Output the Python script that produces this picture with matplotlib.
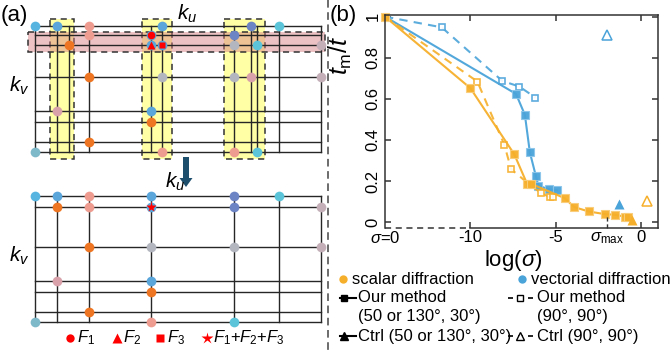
import matplotlib
matplotlib.use("Agg")
import matplotlib.pyplot as plt
from matplotlib.patches import Rectangle, FancyArrow

plt.rcParams["font.family"] = ["Liberation Sans", "DejaVu Sans"]
plt.rcParams["mathtext.fontset"] = "custom"
plt.rcParams["mathtext.rm"] = "Liberation Sans"
plt.rcParams["mathtext.it"] = "Liberation Sans:italic"
plt.rcParams["mathtext.bf"] = "Liberation Sans:bold"

# ---------------- panel (b) data ----------------
sca_our_x = [-15, -10, -7.43, -6.68, -6.43, -4.49, -3.91, -3.08, -2.13, -1.55, -0.97, -0.78]
sca_our_y = [1.0, 0.652, 0.33, 0.186, 0.186, 0.117, 0.073, 0.052, 0.039, 0.036, 0.027, 0.027]
sca_our90_x = [-15, -9.59, -8.01, -7.62, -6.5, -5.84, -5.36, -5.17]
sca_our90_y = [1.0, 0.684, 0.376, 0.258, 0.18, 0.141, 0.122, 0.122]
vec_our_x = [-15, -7.33, -6.81, -6.52, -6.17, -6.02, -5.40, -4.92]
vec_our_y = [1.0, 0.624, 0.522, 0.34, 0.225, 0.177, 0.16, 0.155]
vec_our90_x = [-15, -11.68, -8.13, -7.14, -6.19]
vec_our90_y = [1.0, 0.948, 0.687, 0.66, 0.606]
sca_ctrl = (-0.53, 0.011)
vec_ctrl = (-1.28, 0.089)
sca_ctrl90 = (0.34, 0.105)
vec_ctrl90 = (-1.98, 0.911)

xtick_pos = [-15, -10, -5, -2, 0]
xtick_lab = [r"$\sigma$=0", "-10", "-5", r"$\sigma_{\rm max}$", "0"]
ytick_pos = [0, 0.2, 0.4, 0.6, 0.8, 1.0]
ytick_lab = ["0", "0.2", "0.4", "0.6", "0.8", "1"]

ORANGE = "#F6AF2A"
BLUE = "#4AA3D9"

# ---------------- panel (a) schematic (pixel layout) ----------------
cols_top = [35, 56.7, 69.3, 89.3, 151, 161.7, 234.3, 250.7, 257.3, 279.3, 320.7]
rows_top = [26, 35, 45, 76.7, 111, 121.7, 141.7, 152.3]
cols_bot = [35, 56.7, 89.3, 151, 234.3, 279.3, 320.7]
rows_bot = [196, 206.7, 246.7, 281, 291.7, 311.7, 322.3]

LB, BL, SA, DB, TE = "#57B4E0", "#5AA5DA", "#EF9C90", "#6C84C4", "#5CC4D8"
OR, GR, MG, PK, TG = "#EE7522", "#B3B6BF", "#C4AFB9", "#D9A2AA", "#7EB9CA"

dots_top = [(0, 0, LB), (1, 0, BL), (3, 0, SA), (5, 0, BL), (7, 0, DB), (9, 0, TE),
            (3, 1, SA), (2, 2, OR), (4, 1, BL), (4, 2, BL), (5, 2, BL),
            (6, 1, DB), (6, 2, GR), (8, 2, TE), (10, 2, MG),
            (3, 3, OR), (5, 3, GR), (6, 3, GR), (7, 3, PK), (10, 3, MG),
            (1, 4, PK), (4, 4, BL), (4, 5, OR), (3, 6, OR),
            (0, 7, TG), (5, 7, SA), (6, 7, SA), (8, 7, TE)]
dots_bot = [(0, 0, LB), (1, 0, BL), (2, 0, SA), (3, 0, BL), (4, 0, DB), (5, 0, TE),
            (1, 1, OR), (2, 1, SA), (3, 1, BL), (4, 1, DB), (6, 1, MG),
            (2, 2, OR), (3, 2, GR), (4, 2, GR), (6, 2, MG),
            (1, 3, PK), (3, 3, BL), (3, 4, OR), (2, 5, OR),
            (0, 6, TG), (3, 6, SA), (4, 6, TE)]
red_top = [(4, 1, "o"), (4, 2, "^"), (5, 2, "s")]
red_bot = [(3, 1, "*")]
yellow_boxes = [(50, 74.3), (141.7, 171.7), (224.3, 265)]
yellow_y = (19, 159)
pink_band = (28.3, 325, 31.7, 52.3)

fig = plt.figure(figsize=(6.7, 3.5), dpi=100)
ax0 = fig.add_axes([0, 0, 1, 1])
ax0.set_xlim(0, 670)
ax0.set_ylim(350, 0)
ax0.axis("off")

LINE = "#262626"

# yellow column highlights
for x0, x1 in yellow_boxes:
    ax0.add_patch(Rectangle((x0, yellow_y[0]), x1 - x0, yellow_y[1] - yellow_y[0],
                            facecolor="#FFFFA6", edgecolor="#333333", lw=1.1,
                            ls=(0, (4, 3)), zorder=1))
# pink row highlight
px0, px1, py0, py1 = pink_band
ax0.add_patch(Rectangle((px0, py0), px1 - px0, py1 - py0, facecolor="#D8787F",
                        alpha=0.45, edgecolor="none", zorder=1.5))
ax0.add_patch(Rectangle((px0, py0), px1 - px0, py1 - py0, facecolor="none",
                        edgecolor="#333333", lw=1.1, ls=(0, (4, 3)), zorder=1.6))


def draw_grid(cols, rows, dots):
    for c in cols:
        ax0.plot([c, c], [rows[0], rows[-1]], color=LINE, lw=1.0, zorder=2)
    for r in rows:
        ax0.plot([cols[0], cols[-1]], [r, r], color=LINE, lw=1.0, zorder=2)
    for ci, ri, col in dots:
        ax0.plot(cols[ci], rows[ri], "o", ms=7, color=col, mec="none", zorder=3)


draw_grid(cols_top, rows_top, dots_top)
draw_grid(cols_bot, rows_bot, dots_bot)
for ci, ri, m in red_top:
    ax0.plot(cols_top[ci], rows_top[ri], m, ms=5.5 if m != "s" else 5, color="red",
             mec="none", zorder=4)
for ci, ri, m in red_bot:
    ax0.plot(cols_bot[ci], rows_bot[ri], m, ms=8, color="red", mec="none", zorder=4)

ax0.add_patch(FancyArrow(186, 157, 0, 21, width=6, head_width=13, head_length=9,
                         length_includes_head=False, color="#1D4E6C", lw=0, zorder=3))

ax0.text(1, 16, "(a)", fontsize=16, va="center", ha="left")
ax0.text(330, 16, "(b)", fontsize=16, va="center", ha="left")
ax0.text(177, 14, r"$k_u$", fontsize=15, va="center", ha="left")
ax0.text(165, 182, r"$k_u$", fontsize=15, va="center", ha="left")
ax0.text(9, 86, r"$k_v$", fontsize=15, va="center", ha="left")
ax0.text(9, 256, r"$k_v$", fontsize=15, va="center", ha="left")

# separator
ax0.plot([328, 328], [0, 350], color="#444444", lw=1.1, ls=(0, (5, 3)))

# panel (a) legend
leg_y = 338
for xm, m, ms, xt, lab in [(70, "o", 6, 77, r"$F_1$"), (117, "^", 7, 123, r"$F_2$"),
                           (160, "s", 6, 167, r"$F_3$"),
                           (207, "*", 9, 213, r"$F_1$+$F_2$+$F_3$")]:
    ax0.plot(xm, leg_y, m, ms=ms, color="red", mec="none")
    ax0.text(xt, leg_y, lab, fontsize=12, va="center", ha="left")

# panel (b) legend
ax0.plot(343, 279, "o", ms=6, color=ORANGE, mec="none")
ax0.text(352, 279, "scalar diffraction", fontsize=12, va="center")
ax0.plot(522, 279, "o", ms=6, color=BLUE, mec="none")
ax0.text(531, 279, "vectorial diffraction", fontsize=12, va="center")

ax0.plot([340, 356], [298, 298], color="black", lw=1.5)
ax0.plot(344, 298, "s", ms=5, color="black")
ax0.text(358, 298, "Our method", fontsize=12, va="center")
ax0.text(358, 316, "(50 or 130°, 30°)", fontsize=12, va="center")
ax0.plot([508, 533], [298, 298], color="black", lw=1.2, ls=(0, (3, 3)))
ax0.plot(520, 298, "s", ms=5, mfc="white", mec="black", mew=1.0)
ax0.text(537, 298, "Our method", fontsize=12, va="center")
ax0.text(537, 316, "(90°, 90°)", fontsize=12, va="center")

ax0.plot([340, 356], [336, 336], color="black", lw=1.5)
ax0.plot(344, 336, "^", ms=6, color="black")
ax0.text(358, 336, "Ctrl (50 or 130°, 30°)", fontsize=12, va="center")
ax0.plot([508, 533], [336, 336], color="black", lw=1.2, ls=(0, (3, 3)))
ax0.plot(520, 336, "^", ms=6, mfc="white", mec="black", mew=1.0)
ax0.text(537, 336, "Ctrl (90°, 90°)", fontsize=12, va="center")

# ---------------- panel (b) plot ----------------
ax = fig.add_axes([385 / 670, (350 - 227.7) / 350, 273.3 / 670, 212.7 / 350])
ax.patch.set_alpha(0)
xmin, xmax, ymin, ymax = -15, 1, -0.027, 1.008
ax.set_xlim(xmin, xmax)
ax.set_ylim(ymin, ymax)

ax.plot(vec_our90_x, vec_our90_y, ls=(0, (4, 3)), color=BLUE, lw=1.5, marker="s",
        ms=5, mfc="white", mec=BLUE, mew=1.2, alpha=0.9)
ax.plot(vec_our_x, vec_our_y, "-s", color=BLUE, lw=1.5, ms=5.5, mec="#8CC6EA",
        mew=0.8, alpha=0.95)
ax.plot(sca_our90_x, sca_our90_y, ls=(0, (4, 3)), color=ORANGE, lw=1.5, marker="s",
        ms=5, mfc="white", mec=ORANGE, mew=1.2, alpha=0.9)
ax.plot(sca_our_x, sca_our_y, "-s", color=ORANGE, lw=1.5, ms=5.5, mec="#F9CD7A",
        mew=0.8, alpha=0.95, clip_on=False)
ax.plot(*sca_ctrl, "^", ms=7, color=ORANGE, mec="none", clip_on=False)
ax.plot(*vec_ctrl, "^", ms=7, color=BLUE, mec="none")
ax.plot(*sca_ctrl90, "^", ms=7, mfc="white", mec=ORANGE, mew=1.1)
ax.plot(*vec_ctrl90, "^", ms=7, mfc="white", mec=BLUE, mew=1.1)

ax.set_xticks(xtick_pos)
ax.set_xticklabels(xtick_lab, fontsize=12)
ax.set_yticks(ytick_pos)
ax.set_yticklabels(ytick_lab, fontsize=12, rotation=90, va="center")
ax.tick_params(direction="in", top=True, right=True, length=4, width=1.1,
               color="#333333")
ax.tick_params(axis="x", pad=2)
ax.tick_params(axis="y", pad=3)
for t in ax.xaxis.get_major_ticks():
    if t.get_loc() in (-15, -2):
        t.tick1line.set_visible(False)
        t.tick2line.set_visible(False)

for s in ("top", "left", "right"):
    ax.spines[s].set_linewidth(1.1)
    ax.spines[s].set_color("#333333")
ax.spines["bottom"].set_visible(False)
ax.plot([xmin, -10], [ymin, ymin], color="#333333", lw=1.1, ls=(0, (4, 3)), clip_on=False)
ax.plot([-10, xmax], [ymin, ymin], color="#333333", lw=1.1, clip_on=False)
ax.plot([-2, -2], [ymin, ymin + 0.06], color="#333333", lw=1.0, ls=(0, (3, 2)),
        clip_on=False)

ax.set_xlabel(r"log($\sigma$)", fontsize=16)
ax.xaxis.set_label_coords(0.468, -0.095)
ax.set_ylabel(r"$t_{\rm m}/t$", fontsize=18)
ax.yaxis.set_label_coords(-0.115, 0.81)

fig.savefig("out.png", dpi=100)
